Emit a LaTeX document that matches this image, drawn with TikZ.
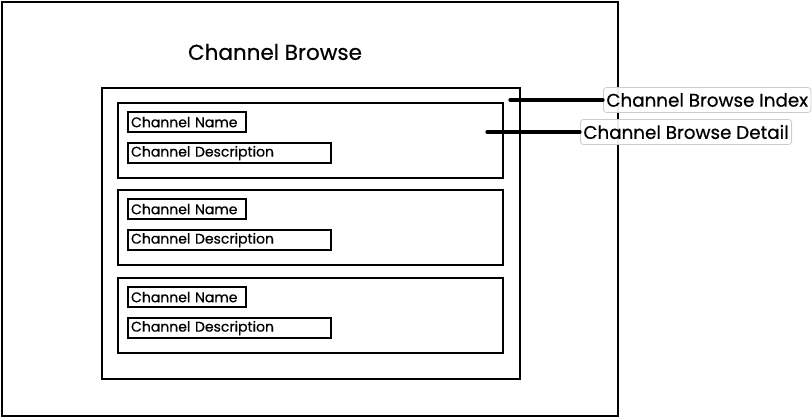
\documentclass[tikz,border=0pt]{standalone}
\usepackage{fontspec}
\setmainfont{Poppins}[FakeBold=0.5]
\usetikzlibrary{positioning}

\tikzset{
  panel/.style={draw=black,line width=2.4pt,anchor=north west,inner sep=0pt},
  field/.style={draw=black,line width=2.2pt,anchor=north west,inner xsep=3pt,
    inner ysep=0pt,minimum height=20pt,align=left,font=\fontsize{14}{16}\selectfont},
  callout/.style={draw=black!20,fill=white,fill opacity=0.92,text opacity=1,rounded corners=3pt,
    line width=0.8pt,inner xsep=3pt,minimum height=25pt,font=\fontsize{18.3}{20}\selectfont},
  lead/.style={line width=3.2pt,line cap=round}
}

\begin{document}
\begin{tikzpicture}[x=1pt,y=-1pt]
  \useasboundingbox (0,0) rectangle (812,417);

  % --- marco exterior
  \node[panel,line width=2pt,minimum width=616,minimum height=414] (screen) at (1,1) {};
  \node[font=\fontsize{21.5}{24}\selectfont] (title) at (275,52) {Channel Browse};

  % --- indice
  \node[panel,minimum width=418,minimum height=291] (index) at (101,87) {};

  % --- detalles
  \foreach \i/\y in {1/102,2/189,3/277}{
    \node[panel,minimum width=385,minimum height=75] (detail\i) at (117,\y) {};
    \node[field,text width=112] (name\i) at (127,\y+9) {Channel Name};
    \node[field,text width=197] (desc\i) at (127,\y+40) {Channel Description};
  }

  % --- notas
  \node[callout,anchor=west] (idxnote) at (603,100) {Channel Browse Index};
  \node[callout,anchor=west] (detnote) at (580,132) {Channel Browse Detail};
  \coordinate (idxpin) at (510,100);
  \coordinate (detpin) at (487,132);
  \draw[lead] (idxpin) -- (idxnote.west);
  \draw[lead] (detpin) -- (detnote.west);
\end{tikzpicture}
\end{document}
